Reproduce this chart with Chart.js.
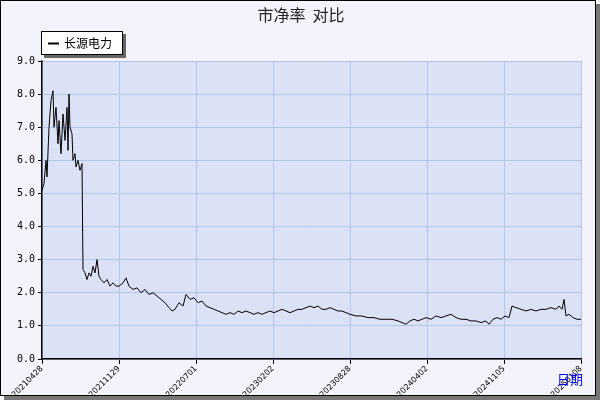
<!DOCTYPE html>
<html><head><meta charset="utf-8">
<script src="https://cdn.jsdelivr.net/npm/chart.js@4"></script>
<style>html,body{margin:0;padding:0;background:#fff}#w{position:absolute;left:0;top:0;width:594px;height:394px;background:#f3f3fb;border:1px solid #000;box-shadow:4px 4px 0 #777}canvas{position:absolute;left:0;top:0}</style>
</head><body><div id="w"><canvas id="c" width="594" height="394"></canvas></div>
<script>
const tickLabels=["20210428","20211129","20220701","20230202","20230828","20240402","20241105","20250108"];
const seriesName="长源电力";
const dayIdx=[0,2,4,5,7,9,11,12,14,16,17,19,21,23,25,26,27,28,30,31,33,34,36,38,40,41,43,45,47,49,51,53,55,57,59,62,65,68,71,74,77,81,84,87,91,95,99,103,107,111,115,119,123,127,130,133,137,141,144,148,152,156,160,164,168,172,176,180,184,188,192,196,200,204,208,212,216,220,224,228,232,236,240,244,248,252,256,260,264,268,272,276,280,284,288,292,296,300,304,308,314,320,326,332,338,344,350,356,360,364,368,372,376,380,384,389,394,399,404,409,414,419,424,429,434,439,444,447,451,455,459,463,467,470,474,479,484,489,494,499,504,509,514,517,520,522,524,527,531,535,539];
const pbValues=[5.1,5.3,6.0,5.5,7.0,7.8,8.1,7.0,7.6,6.5,7.2,6.2,7.4,6.6,7.6,6.3,8.0,7.0,6.8,6.0,6.2,5.8,6.0,5.7,5.9,2.7,2.6,2.4,2.6,2.5,2.8,2.6,3.0,2.5,2.4,2.3,2.4,2.2,2.3,2.2,2.2,2.3,2.45,2.2,2.1,2.15,2.0,2.1,1.95,2.0,1.9,1.8,1.7,1.55,1.45,1.5,1.7,1.6,1.95,1.8,1.85,1.7,1.75,1.6,1.55,1.5,1.45,1.4,1.35,1.4,1.35,1.45,1.4,1.45,1.4,1.35,1.4,1.35,1.4,1.45,1.4,1.45,1.5,1.45,1.4,1.45,1.5,1.5,1.55,1.6,1.55,1.6,1.5,1.5,1.55,1.5,1.45,1.45,1.4,1.35,1.3,1.3,1.25,1.25,1.2,1.2,1.2,1.15,1.1,1.05,1.15,1.2,1.15,1.2,1.25,1.2,1.3,1.25,1.3,1.35,1.25,1.2,1.2,1.15,1.15,1.1,1.15,1.05,1.2,1.25,1.2,1.3,1.25,1.6,1.55,1.5,1.45,1.5,1.45,1.5,1.5,1.55,1.5,1.6,1.5,1.8,1.3,1.35,1.25,1.2,1.2];
const yTicks=[0,1,2,3,4,5,6,7,8,9];
const pts=dayIdx.map((x,i)=>({x:x,y:pbValues[i]}));
const deco={id:'deco',
 beforeDraw(ch){const {ctx,chartArea:a}=ch;ctx.save();ctx.fillStyle='#dce2f6';ctx.fillRect(a.left,a.top,a.right-a.left,a.bottom-a.top);ctx.restore();},
 afterDraw(ch){const ctx=ch.ctx;ctx.save();
  ctx.fillStyle='#222';ctx.font='16px "Noto Sans CJK SC"';ctx.textAlign='center';ctx.textBaseline='middle';ctx.fillText('市净率  对比',300,14);
  ctx.fillStyle='#666';ctx.fillRect(43,33,82,24);ctx.fillStyle='#fff';ctx.fillRect(40,30,82,24);ctx.strokeStyle='#000';ctx.lineWidth=1;ctx.strokeRect(40.5,30.5,81,23);
  ctx.beginPath();ctx.moveTo(47,42.5);ctx.lineTo(58,42.5);ctx.lineWidth=2;ctx.stroke();
  ctx.fillStyle='#000';ctx.font='12px "Noto Sans CJK SC"';ctx.textAlign='left';ctx.fillText(seriesName,63,42);
  ctx.fillStyle='#0000ee';ctx.font='13px "Noto Sans CJK SC"';ctx.fillText('日期',556,378);
  ctx.restore();}};
new Chart(document.getElementById('c'),{type:'line',
 data:{datasets:[{label:seriesName,data:pts,borderColor:'#000',borderWidth:1,pointRadius:0,tension:0}]},
 options:{responsive:false,animation:false,devicePixelRatio:1,
  layout:{padding:{top:60,right:14,left:0,bottom:0}},
  plugins:{legend:{display:false},tooltip:{enabled:false}},
  scales:{
   x:{type:'linear',min:0,max:539,afterBuildTicks(s){s.ticks=tickLabels.map((_,i)=>({value:i*77}));},
      afterFit(s){s.height=36;},
      ticks:{autoSkip:false,maxRotation:45,minRotation:45,font:{size:8,family:'DejaVu Sans'},color:'#000',padding:0,callback:(v)=>tickLabels[Math.round(v/77)]},
      grid:{color:'#b4c4ea',drawTicks:true,tickLength:5,tickColor:'#000'},border:{color:'#000',width:1.5}},
   y:{min:0,max:9,afterBuildTicks(s){s.ticks=yTicks.map(v=>({value:v}));},afterFit(s){s.width=41;},
      ticks:{font:{size:10,family:'DejaVu Sans Mono'},color:'#000',callback:v=>v.toFixed(1),padding:3},
      grid:{color:'#b4c4ea',tickLength:4,tickColor:'#000'},border:{color:'#000',width:1.5}}}}
 ,plugins:[deco]});
</script></body></html>
